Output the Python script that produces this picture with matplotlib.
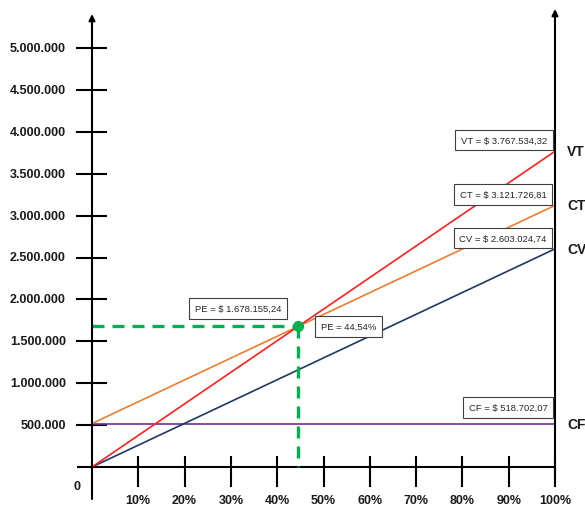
import matplotlib.pyplot as plt

plt.rcParams['font.family'] = ['Liberation Sans', 'DejaVu Sans']

# datos del punto de equilibrio
cf = 518702.07        # costo fijo
cv = 2603024.74       # costo variable al 100%
vt = 3767534.32       # ventas totales al 100%
ct = 3121726.81       # costo total al 100%
pe_pct = 0.4454       # punto de equilibrio en %
pe_val = 1678155.24   # punto de equilibrio en $

y_ticks = [500000, 1000000, 1500000, 2000000, 2500000,
           3000000, 3500000, 4000000, 4500000, 5000000]
y_labels = ['500.000', '1.000.000', '1.500.000', '2.000.000', '2.500.000',
            '3.000.000', '3.500.000', '4.000.000', '4.500.000', '5.000.000']
x_ticks = [0.1, 0.2, 0.3, 0.4, 0.5, 0.6, 0.7, 0.8, 0.9, 1.0]
x_labels = ['10%', '20%', '30%', '40%', '50%', '60%', '70%', '80%', '90%', '100%']


def pesos(v):
    s = f'{v:,.2f}'
    return s.replace(',', '#').replace('.', ',').replace('#', '.')


# escala: 463 px para el 100%, 83.8 px por millon
sx = 463.0
sy = 83.8e-6
fig = plt.figure(figsize=(5.85, 5.06), dpi=100)
ax = fig.add_axes([0, 0, 1, 1])
ax.set_xlim(-92 / sx, (585 - 92) / sx)
ax.set_ylim(-(506 - 468) / sy, 468 / sy)
ax.axis('off')

px = 1 / sx   # un pixel en x
py = 1 / sy   # un pixel en y

# ejes
arrow = dict(arrowstyle='-|>', lw=1.5, color='black', mutation_scale=9,
             shrinkA=0, shrinkB=0)
ax.annotate('', xy=(0, 453 * py), xytext=(0, -32 * py), arrowprops=arrow)
ax.annotate('', xy=(1, 458 * py), xytext=(1, -12 * py), arrowprops=arrow)
ax.plot([-15 * px, 1], [0, 0], color='black', lw=1.5, solid_capstyle='butt')

for y, lab in zip(y_ticks, y_labels):
    ax.plot([-15 * px, 14 * px], [y, y], color='black', lw=1.5)
    ax.text(-26 * px, y, lab, ha='right', va='center',
            fontsize=9, fontweight='bold', color='#1a1a1a')
for x, lab in zip(x_ticks, x_labels):
    ax.plot([x, x], [10 * py, -19 * py], color='black', lw=1.5)
    ax.text(x, -33 * py, lab, ha='center', va='center',
            fontsize=9, fontweight='bold', color='#1a1a1a')
ax.text(-15 * px, -19 * py, '0', ha='center', va='center',
        fontsize=9, fontweight='bold', color='#1a1a1a')

# rectas
ax.plot([0, 1], [cf, cf], color='#7030A0', lw=1.2)
ax.plot([0, 1], [cf, ct], color='#ED7D31', lw=1.2)
ax.plot([0, 1], [0, cv], color='#1F3864', lw=1.2)
ax.plot([0, 1], [0, vt], color='#FF2020', lw=1.2)

# punto de equilibrio
green = '#00B050'
ax.plot([0, pe_pct], [pe_val, pe_val], color=green, lw=2.4, dashes=(3.6, 2.4))
ax.plot([pe_pct, pe_pct], [pe_val, 0], color=green, lw=2.4, dashes=(3.6, 2.4))
ax.plot(pe_pct, pe_val, 'o', color=green, ms=7)

box = dict(boxstyle='square,pad=0.6', fc='white', ec='#404040', lw=0.8)
txt = dict(fontsize=6.8, color='#262626', ha='center', va='center',
           textcoords='offset pixels', bbox=box)
ax.annotate('PE = $ ' + pesos(pe_val), xy=(pe_pct, pe_val), xytext=(-60, 18), **txt)
ax.annotate('PE = ' + f'{pe_pct * 100:.2f}'.replace('.', ',') + '%',
            xy=(pe_pct, pe_val), xytext=(50, 0), **txt)

ax.annotate('VT = $ ' + pesos(vt), xy=(1, vt), xytext=(-51, 11), **txt)
ax.annotate('CT = $ ' + pesos(ct), xy=(1, ct), xytext=(-52, 11), **txt)
ax.annotate('CV = $ ' + pesos(cv), xy=(1, cv), xytext=(-52, 11), **txt)
ax.annotate('CF = $ ' + pesos(cf), xy=(1, cf), xytext=(-47, 16), **txt)

for name, val in [('VT', vt), ('CT', ct), ('CV', cv), ('CF', cf)]:
    ax.annotate(name, xy=(1, val), xytext=(12, 0), textcoords='offset pixels',
                ha='left', va='center', fontsize=10, fontweight='bold',
                color='#1a1a1a')

fig.savefig('out.png', dpi=100)
